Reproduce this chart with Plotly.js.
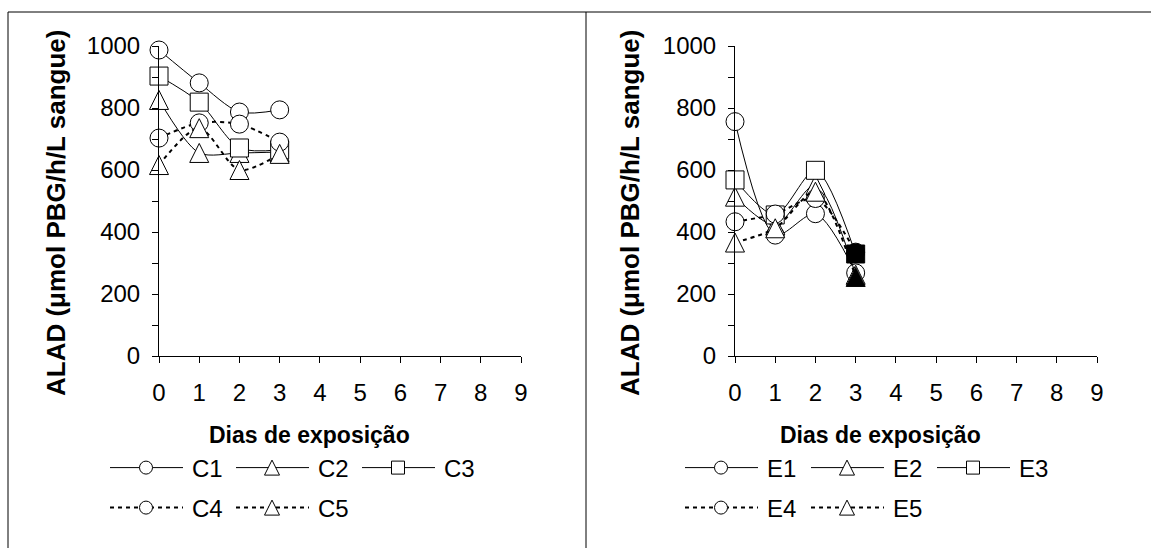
<!DOCTYPE html>
<html>
<head>
<meta charset="utf-8">
<script src="https://cdn.plot.ly/plotly-3.0.1.min.js"></script>
<style>
  html, body { margin: 0; padding: 0; background: #fff; }
  #chart { width: 1151px; height: 548px; }
</style>
</head>
<body>
<div id="chart"></div>
<script>
// ---- data ----
const days = [0, 1, 2, 3];
const xTickVals = [0, 1, 2, 3, 4, 5, 6, 7, 8, 9];
const yTickVals = [0, 200, 400, 600, 800, 1000];

const controlNames = ['C1', 'C2', 'C3', 'C4', 'C5'];
const C1 = [987, 881, 787, 794];
const C2 = [826, 655, 655, 658];
const C3 = [903, 819, 671, 665];
const C4 = [703, 752, 748, 690];
const C5 = [616, 735, 600, 652];

const exposedNames = ['E1', 'E2', 'E3', 'E4', 'E5'];
const E1 = [756, 390, 459, 268];
const E2 = [514, 422, 552, 262];
const E3 = [568, 455, 599, 329];
const E4 = [433, 458, 508, 335];
const E5 = [366, 412, 530, 255];

const xTitle = 'Dias de exposição';
const yTitle = 'ALAD (μmol PBG/h/L sangue)';

// ---- styles ----
const FONT = 'Liberation Sans, Arial, sans-serif';
const W = 1151, H = 548;
const styles = [
  { symbol: 'circle', dash: 'solid', width: 1, size: 18, leg: 13 },
  { symbol: 'arrow-down', dash: 'solid', width: 1, size: 19, tri: true, leg: 15 },
  { symbol: 'square', dash: 'solid', width: 1, size: 18, leg: 13 },
  { symbol: 'circle', dash: '4px,4px', width: 2, size: 18, leg: 13 },
  { symbol: 'arrow-down', dash: '4px,4px', width: 2, size: 19, tri: true, leg: 15 }
];

function mkTrace(name, y, st, xa, ya, legend, fills) {
  const marker = {
    symbol: st.symbol, size: st.size,
    color: fills || 'white',
    line: { color: 'black', width: 1 }
  };
  if (st.tri) { marker.angle = 180; marker.standoff = st.size / 2; }
  return {
    type: 'scatter', mode: 'lines+markers', name: name,
    x: days, y: y, xaxis: xa, yaxis: ya, legend: legend,
    cliponaxis: false,
    line: { color: 'black', width: st.width, dash: st.dash, shape: 'spline', smoothing: 0.8 },
    marker: marker
  };
}

const cData = [C1, C2, C3, C4, C5];
const eData = [E1, E2, E3, E4, E5];
const eFills = [null, null, ['white','white','white','black'], ['white','white','white','black'], ['white','white','white','black']];

const traces = [];
cData.forEach((y, i) => traces.push(mkTrace(controlNames[i], y, styles[i], 'x', 'y', i < 3 ? 'legend' : 'legend2')));
eData.forEach((y, i) => traces.push(mkTrace(exposedNames[i], y, styles[i], 'x2', 'y2', i < 3 ? 'legend3' : 'legend4', eFills[i])));

const px = v => v / W;
const py = v => 1 - v / H;

function xAxis(domain, anchor) {
  return {
    domain: domain, anchor: anchor, range: [0, 9], tickvals: xTickVals,
    ticks: 'outside', ticklen: 6, tickcolor: 'black', tickwidth: 1,
    showline: true, linecolor: 'black', linewidth: 1, zeroline: false, showgrid: false,
    ticklabelstandoff: 9,
    tickfont: { family: FONT, size: 24, color: 'black' }, fixedrange: true
  };
}
function yAxis(anchor) {
  return {
    domain: [py(356), py(46)], anchor: anchor, range: [0, 1000], tickvals: yTickVals,
    ticks: 'outside', ticklen: 6, tickcolor: 'black', tickwidth: 1,
    minor: { dtick: 100, ticks: 'outside', ticklen: 6, tickcolor: 'black', tickwidth: 1, showgrid: false },
    showline: true, linecolor: 'black', linewidth: 1, zeroline: false, showgrid: false,
    ticklabelstandoff: 7,
    tickfont: { family: FONT, size: 24, color: 'black' }, fixedrange: true
  };
}
function legendAt(x, y) {
  return {
    x: px(x), y: py(y), xanchor: 'left', yanchor: 'middle', orientation: 'h',
    itemwidth: 77, entrywidth: 34, entrywidthmode: 'pixels',
    bgcolor: 'rgba(0,0,0,0)', borderwidth: 0, traceorder: 'normal',
    font: { family: FONT, size: 24, color: 'black' }
  };
}

const titleFont = { family: FONT, size: 23, color: 'black', weight: 'bold' };
const yTitleFont = { family: FONT, size: 26, color: 'black', weight: 'bold' };

const layout = {
  width: W, height: H, margin: { l: 0, r: 0, t: 0, b: 0 },
  paper_bgcolor: 'white', plot_bgcolor: 'white', showlegend: true,
  xaxis: xAxis([px(159), px(521)], 'y'),
  yaxis: yAxis('x'),
  xaxis2: xAxis([px(735), px(1097)], 'y2'),
  yaxis2: yAxis('x2'),
  legend: legendAt(105, 468),
  legend2: legendAt(105, 508),
  legend3: legendAt(680, 468),
  legend4: legendAt(680, 508),
  annotations: [
    { text: '<b>' + xTitle + '</b>', xref: 'paper', yref: 'paper', x: px(309), y: py(435), xanchor: 'center', yanchor: 'middle', showarrow: false, font: titleFont },
    { text: '<b>' + xTitle + '</b>', xref: 'paper', yref: 'paper', x: px(880), y: py(435), xanchor: 'center', yanchor: 'middle', showarrow: false, font: titleFont },
    { text: '<b>' + yTitle + '</b>', xref: 'paper', yref: 'paper', x: px(56), y: py(213), xanchor: 'center', yanchor: 'middle', textangle: -90, showarrow: false, font: yTitleFont },
    { text: '<b>' + yTitle + '</b>', xref: 'paper', yref: 'paper', x: px(630), y: py(213), xanchor: 'center', yanchor: 'middle', textangle: -90, showarrow: false, font: yTitleFont }
  ],
  shapes: [
    { type: 'line', xref: 'paper', yref: 'paper', x0: px(8), x1: 1, y0: py(12), y1: py(12), line: { color: 'black', width: 1 } },
    { type: 'line', xref: 'paper', yref: 'paper', x0: px(8), x1: px(8), y0: py(12), y1: 0, line: { color: 'black', width: 1 } },
    { type: 'line', xref: 'paper', yref: 'paper', x0: px(586), x1: px(586), y0: py(12), y1: 0, line: { color: 'black', width: 1 } }
  ]
};

Plotly.newPlot('chart', traces, layout, { staticPlot: true, displayModeBar: false }).then(() => {
  document.querySelectorAll('.infolayer g.traces').forEach(g => {
    const d = g.__data__;
    const name = d && d[0] && d[0].trace ? d[0].trace.name : null;
    const idx = Math.max(controlNames.indexOf(name), exposedNames.indexOf(name));
    const st = styles[idx >= 0 ? idx : 0];
    g.querySelectorAll('.legendlines path').forEach(p => p.setAttribute('d', 'M5,0h73'));
    g.querySelectorAll('.legendpoints path').forEach(p => {
      const bb = p.getBBox();
      const cx = bb.x + bb.width / 2, cy = bb.y + bb.height / 2;
      const s = st.leg / bb.height;
      p.setAttribute('transform', 'translate(41,0) scale(' + s + ') translate(' + (-cx) + ',' + (-cy) + ')');
      p.style.vectorEffect = 'non-scaling-stroke';
      p.style.fill = 'white';
      p.style.stroke = 'black';
      p.style.strokeWidth = '1px';
    });
  });
});
</script>
</body>
</html>
